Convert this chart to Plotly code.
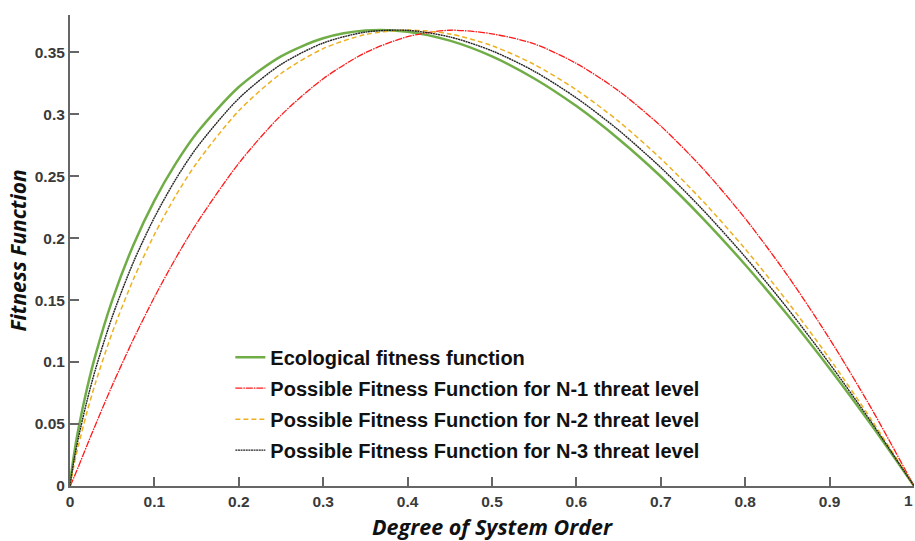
import plotly.graph_objects as go

# Degree of system order (x) samples
x_vals = [0, 0.001, 0.005, 0.01, 0.02, 0.03, 0.05, 0.075, 0.1, 0.125, 0.15, 0.2, 0.25, 0.3,
          0.35, 0.4, 0.45, 0.5, 0.55, 0.6, 0.65, 0.7, 0.75, 0.8, 0.85, 0.9, 0.95, 1.0]

# Fitness values
ecological = [0, 0.0069, 0.0265, 0.0461, 0.0782, 0.1052, 0.1498, 0.1943, 0.2303, 0.2599, 0.2846,
              0.3219, 0.3466, 0.3612, 0.3674, 0.3665, 0.3593, 0.3466, 0.3288, 0.3065, 0.2800,
              0.2497, 0.2158, 0.1785, 0.1381, 0.0948, 0.0487, 0]
n1_threat = [0, 0.0012, 0.0074, 0.0156, 0.0325, 0.0491, 0.0811, 0.1182, 0.1523, 0.1835, 0.2118,
             0.2604, 0.2991, 0.3286, 0.3496, 0.3625, 0.3677, 0.3648, 0.3567, 0.3409, 0.3188,
             0.2904, 0.2560, 0.2158, 0.1700, 0.1187, 0.0620, 0]
n2_threat = [0, 0.0040, 0.0176, 0.0327, 0.0593, 0.0828, 0.1237, 0.1666, 0.2029, 0.2339, 0.2605,
             0.3027, 0.3328, 0.3529, 0.3642, 0.3679, 0.3647, 0.3552, 0.3401, 0.3196, 0.2942,
             0.2641, 0.2297, 0.1912, 0.1488, 0.1027, 0.0530, 0]
n3_threat = [0, 0.0053, 0.0217, 0.0390, 0.0684, 0.0937, 0.1365, 0.1804, 0.2166, 0.2471, 0.2728,
             0.3127, 0.3401, 0.3574, 0.3662, 0.3676, 0.3623, 0.3511, 0.3346, 0.3131, 0.2871,
             0.2569, 0.2227, 0.1848, 0.1434, 0.0987, 0.0509, 0]

names = ["Ecological fitness function",
         "Possible Fitness Function for N-1 threat level",
         "Possible Fitness Function for N-2 threat level",
         "Possible Fitness Function for N-3 threat level"]

x_ticks = [0, 0.1, 0.2, 0.3, 0.4, 0.5, 0.6, 0.7, 0.8, 0.9, 1]
x_ticklabels = ["0", "0.1", "0.2", "0.3", "0.4", "0.5", "0.6", "0.7", "0.8", "0.9", "1"]
y_ticks = [0, 0.05, 0.1, 0.15, 0.2, 0.25, 0.3, 0.35]
y_ticklabels = ["0", "0.05", "0.1", "0.15", "0.2", "0.25", "0.3", "0.35"]

series = [ecological, n1_threat, n2_threat, n3_threat]
styles = [
    dict(color="#70AD47", width=2.5, dash="solid"),
    dict(color="#FF1A1A", width=1.3, dash="7px,1px,1.5px,1px"),
    dict(color="#EDB120", width=1.5, dash="5px,3px"),
    dict(color="#222222", width=1.4, dash="2px,0.6px"),
]

fig = go.Figure()
for i, (nm, ys, st) in enumerate(zip(names, series, styles)):
    fig.add_trace(go.Scatter(
        x=x_vals, y=ys, mode="lines", name=nm,
        line=dict(shape="spline", smoothing=0.8, **st),
        legendgroup=f"g{i}",
    ))

axis_font = dict(family="Liberation Sans Narrow, Liberation Sans, Arial", size=15.5,
                 color="#3a3a3a", weight="bold")

# last x tick label sits on the page edge; draw it as an annotation kept inside the page
fig.add_annotation(x=x_ticks[-1], y=0, xref="x", yref="y", text=x_ticklabels[-1],
                   showarrow=False, xanchor="right", yanchor="top", yshift=-4, xshift=1,
                   font=axis_font)

fig.update_layout(
    width=915, height=541,
    paper_bgcolor="white", plot_bgcolor="white",
    margin=dict(l=70, r=1, t=15, b=55),
    showlegend=True,
    legend=dict(
        x=0.19, y=0.315, xanchor="left", yanchor="top",
        bgcolor="rgba(0,0,0,0)", borderwidth=0,
        font=dict(family="Liberation Sans, Arial", size=20, color="#111111", weight="bold"),
        tracegroupgap=2,
    ),
    xaxis=dict(
        range=[0, 1], tickmode="array", tickvals=x_ticks[:-1], ticktext=x_ticklabels[:-1],
        showgrid=False, zeroline=False, showline=True, linecolor="#666666", linewidth=2,
        ticks="inside", ticklen=9, tickcolor="#666666", tickwidth=1.5,
        tickfont=axis_font, automargin=False,
        title=dict(text="<i><b>Degree of System Order</b></i>",
                   font=dict(family="Open Sans, DejaVu Sans", size=21.5, color="#111111")),
    ),
    yaxis=dict(
        range=[0, 0.38], tickmode="array", tickvals=y_ticks, ticktext=y_ticklabels,
        showgrid=False, zeroline=False, showline=True, linecolor="#666666", linewidth=2,
        ticks="inside", ticklen=9, tickcolor="#666666", tickwidth=1.5,
        tickfont=axis_font, automargin=False,
        title=dict(text="<i><b>Fitness Function</b></i>", standoff=2,
                   font=dict(family="Open Sans, DejaVu Sans", size=21, color="#111111")),
    ),
)

fig.write_html("out.html", post_script="document.body.style.margin='0';",
               config={"displayModeBar": False})
